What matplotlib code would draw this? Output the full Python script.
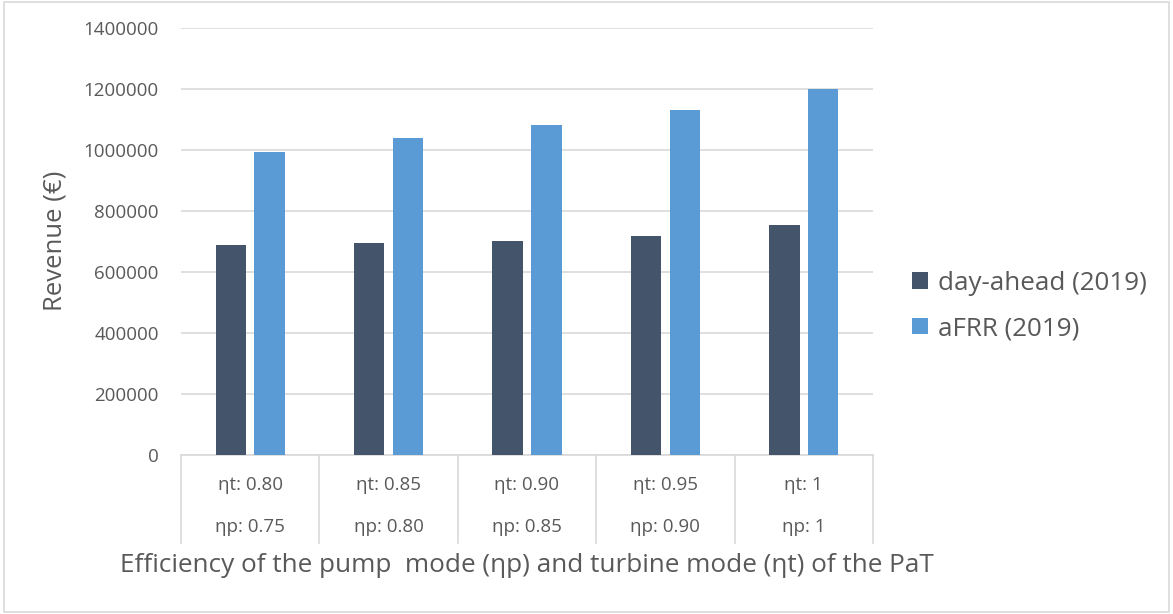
import numpy as np
import matplotlib.pyplot as plt
from matplotlib.lines import Line2D
from matplotlib.patches import Rectangle
from matplotlib.ticker import FuncFormatter

plt.rcParams['font.family'] = ['Open Sans', 'DejaVu Sans']

# Data
eta_t = ['ηt: 0.80', 'ηt: 0.85', 'ηt: 0.90', 'ηt: 0.95', 'ηt: 1']
eta_p = ['ηp: 0.75', 'ηp: 0.80', 'ηp: 0.85', 'ηp: 0.90', 'ηp: 1']
day_ahead = [688000, 695000, 702000, 718000, 754000]
afrr = [993000, 1039000, 1082000, 1131000, 1200000]

txt = '#595959'
grid = '#D9D9D9'

fig = plt.figure(figsize=(11.73, 6.14), dpi=100)
fig.patches.append(Rectangle((0.003, 0.003), 0.994, 0.994, transform=fig.transFigure,
                             fill=False, edgecolor=grid, linewidth=1.2))
ax = fig.add_axes([181 / 1173, 1 - 455 / 614, 692 / 1173, 427 / 614])

x = np.arange(len(eta_t))
w = 0.22
ax.bar(x - 0.14, day_ahead, w, color='#44546A', label='day-ahead (2019)', zorder=3)
ax.bar(x + 0.14, afrr, w, color='#5B9BD5', label='aFRR (2019)', zorder=3)

ax.set_xlim(-0.5, len(eta_t) - 0.5)
ax.set_ylim(0, 1400000)
ax.set_yticks(np.arange(0, 1400001, 200000))
ax.yaxis.set_major_formatter(FuncFormatter(lambda v, p: '%d' % v))
ax.yaxis.grid(True, color=grid, linewidth=1.2, zorder=0)
ax.set_xticks([])
ax.tick_params(axis='y', length=0, pad=16, labelsize=13.5, labelcolor=txt)
for s in ['top', 'right', 'left']:
    ax.spines[s].set_visible(False)
ax.spines['bottom'].set_color(grid)
ax.spines['bottom'].set_linewidth(1.2)

# category table under the axis
depth = (543 - 455) / 427
for b in np.arange(len(eta_t) + 1) - 0.5:
    ax.add_line(Line2D([b, b], [0, -depth * 1400000], color=grid, linewidth=1.2,
                       clip_on=False))
for i in x:
    ax.text(i, -(485 - 455) / 427 * 1400000, eta_t[i], ha='center', va='center',
            fontsize=13.5, color=txt)
    ax.text(i, -(527 - 455) / 427 * 1400000, eta_p[i], ha='center', va='center',
            fontsize=13.5, color=txt)

fig.text((181 + 346) / 1173, 1 - 565 / 614,
         'Efficiency of the pump  mode (ηp) and turbine mode (ηt) of the PaT',
         ha='center', va='center', fontsize=18.8, color=txt)
fig.text(55 / 1173, 1 - 241 / 614, 'Revenue (€)', rotation=90, ha='center',
         va='center', fontsize=18.5, color=txt)

leg = ax.legend(loc='center left', bbox_to_anchor=(1.023, 0.349), frameon=False,
                fontsize=18.7, labelcolor=txt, handlelength=0.6, handleheight=0.6,
                handletextpad=0.4, labelspacing=0.78)

fig.savefig('out.png', dpi=100)
